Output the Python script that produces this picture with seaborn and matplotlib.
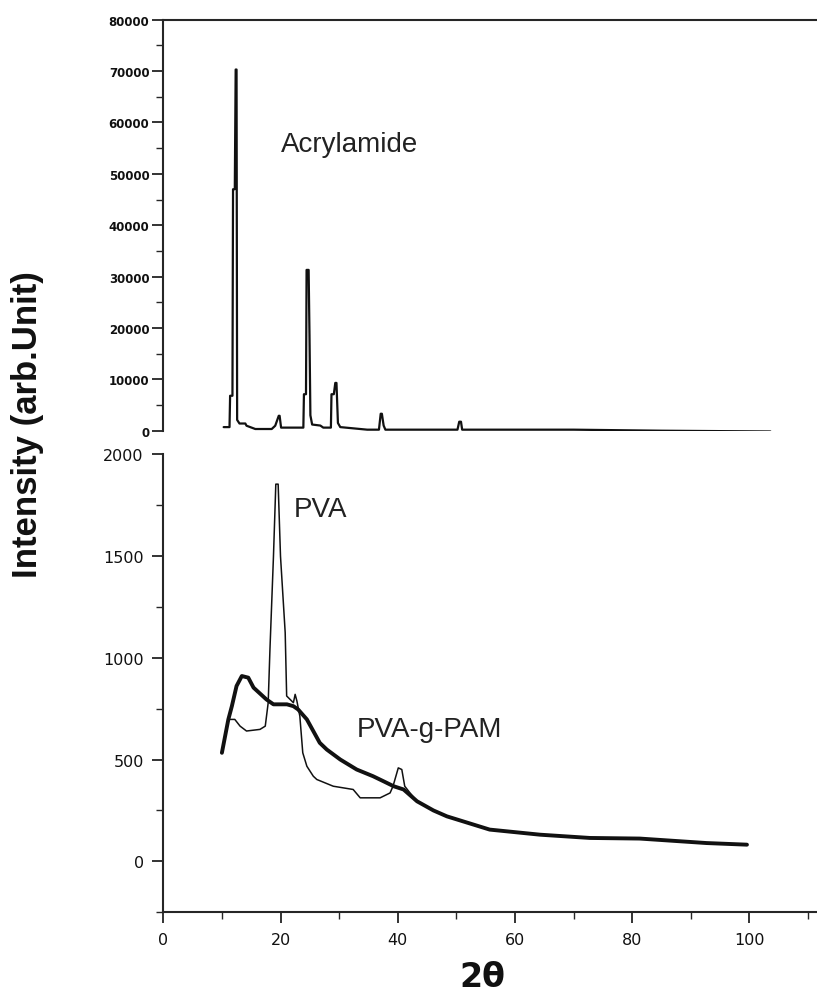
import numpy as np
import pandas as pd
import matplotlib
matplotlib.use("Agg")
import matplotlib.pyplot as plt
from matplotlib.ticker import MultipleLocator
import seaborn as sns

# ---------------- data ----------------
acr_x = [10.3, 11.3, 11.4, 11.8, 11.9, 12.2, 12.35, 12.5, 12.6, 13.0, 14.0, 14.2, 15.7,
         18.5, 19.1, 19.7, 19.85, 20.1, 21.0, 23.4, 23.9, 24.0, 24.35, 24.45, 24.8, 24.95,
         25.1, 25.4, 26.8, 27.3, 28.6, 28.7, 29.1, 29.35, 29.55, 29.8, 30.2, 34.8, 36.8,
         37.1, 37.3, 37.6, 37.9, 50.2, 50.5, 50.8, 51.0, 70.0, 85.0, 103.6]
acr_y = [700, 700, 6800, 6800, 47000, 47000, 70300, 70300, 2100, 1400, 1400, 970, 330,
         330, 970, 2900, 2900, 600, 600, 600, 600, 7100, 7100, 31300, 31300, 18500,
         3000, 1200, 1000, 600, 600, 7100, 7100, 9300, 9300, 1500, 700, 200, 200,
         3300, 3300, 1000, 200, 200, 1750, 1750, 200, 200, 0, -150]

pva_x = [10.0, 11.1, 12.2, 13.1, 14.2, 16.5, 17.4, 17.9, 18.2, 18.8, 19.2, 19.6, 20.0,
         20.8, 21.05, 22.2, 22.5, 22.8, 23.3, 23.8, 24.5, 25.6, 26.2, 29.0, 32.4, 33.6,
         37.0, 38.7, 39.2, 40.1, 40.7, 41.2, 42.1, 43.3, 46.1, 48.4, 55.7, 64.3, 72.8,
         81.3, 92.7, 99.6]
pva_y = [533, 697, 697, 664, 640, 648, 664, 779, 1041, 1498, 1852, 1852, 1498,
         1123, 812, 779, 820, 787, 713, 533, 467, 418, 402, 369, 353, 312,
         312, 336, 369, 459, 451, 369, 336, 295, 250, 221, 156, 131, 115,
         112, 90, 82]

pam_x = [10.0, 11.1, 11.7, 12.5, 13.4, 14.5, 15.4, 17.6, 18.8, 21.1, 22.2, 23.0, 24.5,
         26.7, 27.9, 30.2, 33.0, 35.8, 37.6, 39.3, 41.0, 43.3, 46.1, 48.4, 55.7, 64.3,
         72.8, 81.3, 92.7, 99.6]
pam_y = [533, 697, 762, 861, 910, 902, 853, 795, 771, 771, 762, 746, 697,
         582, 549, 500, 451, 418, 393, 369, 353, 295, 250, 221, 156, 131,
         115, 112, 90, 82]

labels = ["Acrylamide", "PVA", "PVA-g-PAM"]
x_label = "2θ"
y_label = "Intensity (arb.Unit)"

acr = pd.DataFrame({"x": acr_x, "y": acr_y})
pva = pd.DataFrame({"x": pva_x, "y": pva_y})
pam = pd.DataFrame({"x": pam_x, "y": pam_y})

# ---------------- style ----------------
sns.set_theme(style="ticks")
plt.rcParams["font.family"] = ["DejaVu Sans"]
plt.rcParams["axes.linewidth"] = 1.5

W, H = 817, 1003
fig = plt.figure(figsize=(W / 100, H / 100), dpi=100)
fig.patch.set_facecolor("white")

x0 = 163.3
pxu = 5.86
xmax = 111.5
ax_w = xmax * pxu / W

ax_top = fig.add_axes([x0 / W, 1 - 431.7 / H, ax_w, (431.7 - 20.7) / H])
ax_bot = fig.add_axes([x0 / W, 1 - 913.3 / H, ax_w, (913.3 - 455) / H])

for ax in (ax_top, ax_bot):
    ax.set_facecolor("white")
    ax.grid(False)

# top panel
sns.lineplot(data=acr, x="x", y="y", ax=ax_top, sort=False, estimator=None,
             color="#111111", linewidth=1.6)
ax_top.set_xlim(0, xmax)
ax_top.set_ylim(0, 80000)
ax_top.spines["right"].set_visible(False)
ax_top.spines["bottom"].set_visible(False)
ax_top.spines["top"].set_visible(True)
ax_top.set_xticks([])
ax_top.yaxis.set_major_locator(MultipleLocator(10000))
ax_top.yaxis.set_minor_locator(MultipleLocator(5000))
ax_top.tick_params(axis="y", which="major", length=8, width=1.2, pad=2,
                   labelsize=8.5, colors="#111111")
ax_top.tick_params(axis="y", which="minor", length=5, width=1.0)
for t in ax_top.get_yticklabels():
    t.set_fontweight("bold")
ax_top.set_xlabel("")
ax_top.set_ylabel("")
ax_top.text(20.0, 54500, labels[0], fontsize=20, family="Liberation Sans",
            color="#222222", ha="left", va="baseline")

# bottom panel
sns.lineplot(data=pam, x="x", y="y", ax=ax_bot, sort=False, estimator=None,
             color="#111111", linewidth=2.8)
sns.lineplot(data=pva, x="x", y="y", ax=ax_bot, sort=False, estimator=None,
             color="#111111", linewidth=1.1)
ax_bot.set_xlim(0, xmax)
ax_bot.set_ylim(-250, 2000)
ax_bot.spines["right"].set_visible(False)
ax_bot.spines["top"].set_visible(False)
ax_bot.xaxis.set_major_locator(MultipleLocator(20))
ax_bot.xaxis.set_minor_locator(MultipleLocator(10))
ax_bot.yaxis.set_major_locator(MultipleLocator(500))
ax_bot.yaxis.set_minor_locator(MultipleLocator(250))
ax_bot.set_yticks([0, 500, 1000, 1500, 2000])
ax_bot.tick_params(axis="both", which="major", length=8, width=1.2, pad=6,
                   labelsize=11.5, colors="#111111")
ax_bot.tick_params(axis="both", which="minor", length=5, width=1.0)
ax_bot.set_xlabel("")
ax_bot.set_ylabel("")
ax_bot.text(22.2, 1695, labels[1], fontsize=20, family="Liberation Sans",
            color="#222222", ha="left", va="baseline")
ax_bot.text(33.0, 615, labels[2], fontsize=20, family="Liberation Sans",
            color="#222222", ha="left", va="baseline")

fig.text(482 / W, 1 - 978 / H, x_label, fontsize=24, fontweight="bold",
         ha="center", va="center", color="#111111")
fig.text(28 / W, 1 - 425 / H, y_label, fontsize=25, fontweight="bold",
         family="Liberation Sans", rotation=90, ha="center", va="center",
         color="#111111")

fig.savefig("out.png", dpi=100, facecolor="white")
